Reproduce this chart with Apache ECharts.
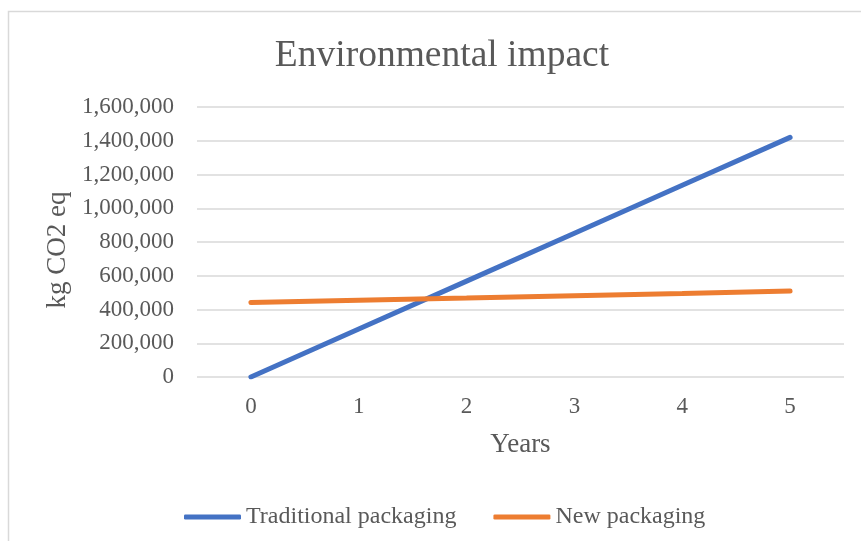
<!DOCTYPE html>
<html>
<head>
<meta charset="utf-8">
<script src="https://cdn.jsdelivr.net/npm/echarts@6/dist/echarts.min.js"></script>
<style>
  html, body { margin: 0; padding: 0; background: #ffffff; }
  #chart { width: 861px; height: 541px; }
</style>
</head>
<body>
<div id="chart"></div>
<script>
// Years on the horizontal axis
const years = ['0', '1', '2', '3', '4', '5'];
// Cumulative emissions, kg CO2 eq
const traditionalPackaging = [0, 284000, 568000, 852000, 1136000, 1420000];
const newPackaging = [441000, 455000, 468000, 482000, 495000, 509000];

const serif = '"Liberation Serif", "Times New Roman", serif';
const textGrey = '#595959';

const chart = echarts.init(document.getElementById('chart'));
chart.setOption({
  backgroundColor: '#ffffff',
  animation: false,
  graphic: [{
    type: 'rect',
    shape: { x: 8.5, y: 11.5, width: 880, height: 560 },
    style: { fill: 'none', stroke: '#d9d9d9', lineWidth: 1.5 },
    silent: true,
    z: -10
  }],
  title: {
    text: 'Environmental impact',
    left: 437,
    textAlign: 'center',
    top: 32,
    textStyle: { fontFamily: serif, fontSize: 37.5, fontWeight: 'normal', color: textGrey }
  },
  grid: { left: 197, right: 17, top: 107, bottom: 164 },
  legend: {
    top: 500,
    left: 179,
    icon: 'roundRect',
    itemWidth: 57,
    itemHeight: 5,
    itemGap: 37,
    textStyle: { fontFamily: serif, fontSize: 24, color: textGrey },
    data: ['Traditional packaging', 'New packaging']
  },
  xAxis: {
    type: 'category',
    data: years,
    boundaryGap: true,
    name: 'Years',
    nameLocation: 'middle',
    nameGap: 54,
    nameTextStyle: { fontFamily: serif, fontSize: 27, color: textGrey },
    axisLine: { show: false },
    axisTick: { show: false },
    axisLabel: { fontFamily: serif, fontSize: 23, color: textGrey, margin: 18 }
  },
  yAxis: {
    type: 'value',
    min: 0,
    max: 1600000,
    interval: 200000,
    name: 'kg CO2 eq',
    nameLocation: 'middle',
    nameRotate: 90,
    nameGap: 124,
    nameTextStyle: { fontFamily: serif, fontSize: 27, color: textGrey, padding: [0, 16, 0, 0] },
    axisLine: { show: false },
    axisTick: { show: false },
    splitLine: { lineStyle: { color: '#d9d9d9', width: 1.5 } },
    axisLabel: {
      fontFamily: serif, fontSize: 23, color: textGrey, margin: 23,
      formatter: v => v.toLocaleString('en-US')
    }
  },
  series: [
    {
      name: 'Traditional packaging',
      type: 'line',
      data: traditionalPackaging,
      symbol: 'none',
      color: '#4472c4',
      lineStyle: { width: 5, color: '#4472c4', cap: 'round' }
    },
    {
      name: 'New packaging',
      type: 'line',
      data: newPackaging,
      symbol: 'none',
      color: '#ed7d31',
      lineStyle: { width: 5, color: '#ed7d31', cap: 'round' }
    }
  ]
});
</script>
</body>
</html>
